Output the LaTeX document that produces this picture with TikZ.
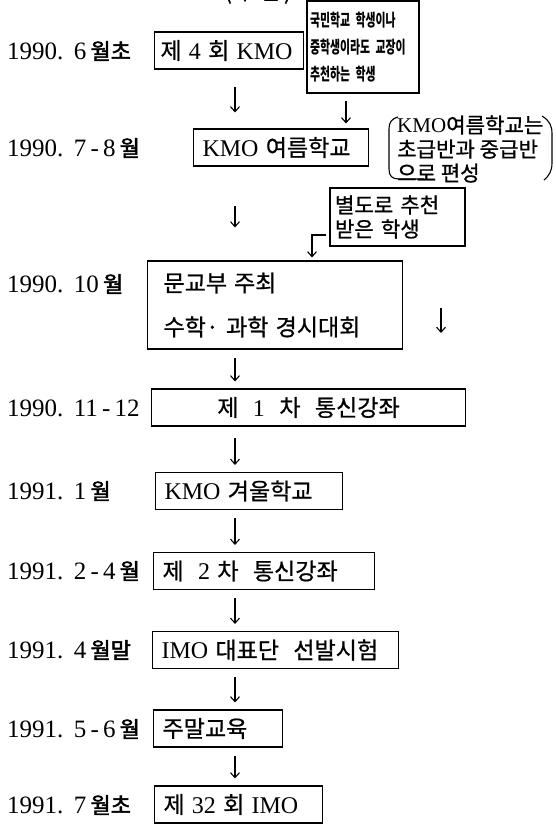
\documentclass[tikz,border=0pt]{standalone}
\usepackage{fontspec}
\setmainfont{Liberation Serif}
\newfontfamily\kr[Scale=0.96, FakeBold=0.8]{Noto Sans CJK KR}
\newfontfamily\krb[FakeBold=2.2]{Noto Sans CJK KR}
\newfontfamily\krn[FakeStretch=0.64]{Noto Sans CJK KR}
\usepackage{tikz}
\usetikzlibrary{arrows.meta,positioning}
\newcommand\gp{\hspace{0.3em}}
\newcommand\lbk[1]{{\krb\fontsize{22}{24}\selectfont #1}}
\tikzset{
  stage/.style={draw, line width=1.1pt, anchor=west, align=left, inner xsep=9pt, inner ysep=0pt,
    minimum height=37pt, font=\fontsize{24}{27}\selectfont},
  when/.style={anchor=west, inner sep=0pt, font=\fontsize{25}{25}\selectfont},
  memo/.style={draw, line width=1.1pt, align=left, inner ysep=0pt},
  flow/.style={line width=1.1pt, -{Straight Barb[length=5pt,width=9pt]}, shorten <=8pt, shorten >=7pt},
}

\begin{document}
\begin{tikzpicture}[x=1pt, y=-1pt]
\useasboundingbox (0,0) rectangle (556,827);

% Heading, cut off at the top edge
\node[font=\kr\fontsize{22}{22}\selectfont] (head) at (258,-7) {(\,구\gp 분\,)};

% Dates
\node[when] (lab1) at (7,51) {1990.\ \,6\,\lbk{월초}};
\node[when] (lab2) at (7,148) {1990.\ \,7\,-\,8\,\lbk{월}};
\node[when] (lab3) at (7,284) {1990.\ \,10\,\lbk{월}};
\node[when] (lab4) at (7,408) {1990.\ \,11\,-\,12};
\node[when] (lab5) at (7,491) {1991.\ \,1\,\lbk{월}};
\node[when] (lab6) at (7,571) {1991.\ \,2\,-\,4\,\lbk{월}};
\node[when] (lab7) at (7,650) {1991.\ \,4\,\lbk{월말}};
\node[when] (lab8) at (7,729) {1991.\ \,5\,-\,6\,\lbk{월}};
\node[when] (lab9) at (7,805) {1991.\ \,7\,\lbk{월초}};

% Stages
\node[stage, text width=137pt, inner xsep=6pt] (kmo4) at (154,50.5) {\mbox{{\kr 제}\gp 4\gp{\kr 회}\gp KMO}};
\node[stage, text width=157pt] (summer) at (193,147.5) {\mbox{KMO\gp{\kr 여름학교}}};
\node[stage, text width=223pt, inner xsep=16pt, minimum height=88pt, font=\fontsize{24}{44}\selectfont] (munkyo) at (147,305)
  {\mbox{\kr 문교부\gp 주최}\\\mbox{{\kr 수학·}\gp{\kr 과학}\gp{\kr 경시대회}}};
\node[stage, text width=296pt, align=center] (tong1) at (151,407.5) {\mbox{{\kr 제}\gp\gp 1\gp\gp{\kr 차}\gp\gp{\kr 통신강좌}}};
\node[stage, text width=169pt] (winter) at (155,491) {\mbox{KMO\gp{\kr 겨울학교}}};
\node[stage, text width=203pt] (tong2) at (153,571) {\mbox{{\kr 제}\gp\gp 2\gp{\kr 차}\gp\gp{\kr 통신강좌}}};
\node[stage, text width=228pt] (select) at (152,650) {\mbox{IMO\gp{\kr 대표단}\gp\gp{\kr 선발시험}}};
\node[stage, text width=111pt] (weekend) at (153,728.5) {\mbox{\kr 주말교육}};
\node[stage, text width=150pt] (imo32) at (154,804.5) {\mbox{{\kr 제}\gp 32\gp{\kr 회}\gp IMO}};

% Side notes
\node[memo, text width=106pt, inner xsep=3pt, minimum height=92pt, font=\krn\bfseries\fontsize{17}{27}\selectfont] (recom) at (363,47)
  {국민학교 학생이나\\중학생이라도 교장이\\추천하는 학생};
\node[anchor=west, align=left, inner sep=0pt, font=\fontsize{21}{24}\selectfont] (group) at (397,149)
  {KMO{\kr\fontsize{22}{24}\selectfont 여름학교는}\\{\kr\fontsize{22}{24}\selectfont 초급반과 중급반}\\{\kr\fontsize{22}{24}\selectfont 으로 편성}};
\node[memo, text width=125pt, inner xsep=5pt, minimum height=58pt, font=\kr\fontsize{22}{24}\selectfont] (extra) at (397.5,217)
  {별도로 추천\\받은 학생};

% Brackets round the group note
\draw[line width=1.1pt] (398,117) .. controls (391,119) and (389,123) .. (389,129) -- (389,169)
  .. controls (389,176) and (392,179) .. (399,179) -- (424,179);
\draw[line width=1.1pt] (542,116) .. controls (550,121) and (552,126) .. (552,134) -- (552,163)
  .. controls (552,171) and (549,176) .. (544,180);

% Arrows
\coordinate (col) at (235,0);
\coordinate (bend) at (312,235);
\coordinate (sidetop) at (441,308);
\coordinate (sidebot) at (441,333);
\draw[flow, shorten <=17pt, shorten >=16pt] (col |- kmo4.south) -- (col |- summer.north);
\draw[flow, shorten <=7pt, shorten >=5pt] ([xshift=-17pt]recom.south) -- ([xshift=-17pt]recom.south |- summer.north);
\draw[flow, shorten <=39pt, shorten >=33pt] (col |- summer.south) -- (col |- munkyo.north);
\draw[flow, shorten <=0pt, shorten >=3pt] ([xshift=-3pt]extra.west |- bend) -- (bend) -- (bend |- munkyo.north);
\draw[flow, shorten <=0pt, shorten >=0pt] (sidetop) -- (sidebot);
\draw[flow] (col |- munkyo.south) -- (col |- tong1.north);
\draw[flow, shorten <=11pt] (col |- tong1.south) -- (col |- winter.north);
\draw[flow] (col |- winter.south) -- (col |- tong2.north);
\draw[flow] (col |- tong2.south) -- (col |- select.north);
\draw[flow] (col |- select.south) -- (col |- weekend.north);
\draw[flow] (col |- weekend.south) -- (col |- imo32.north);
\end{tikzpicture}
\end{document}
